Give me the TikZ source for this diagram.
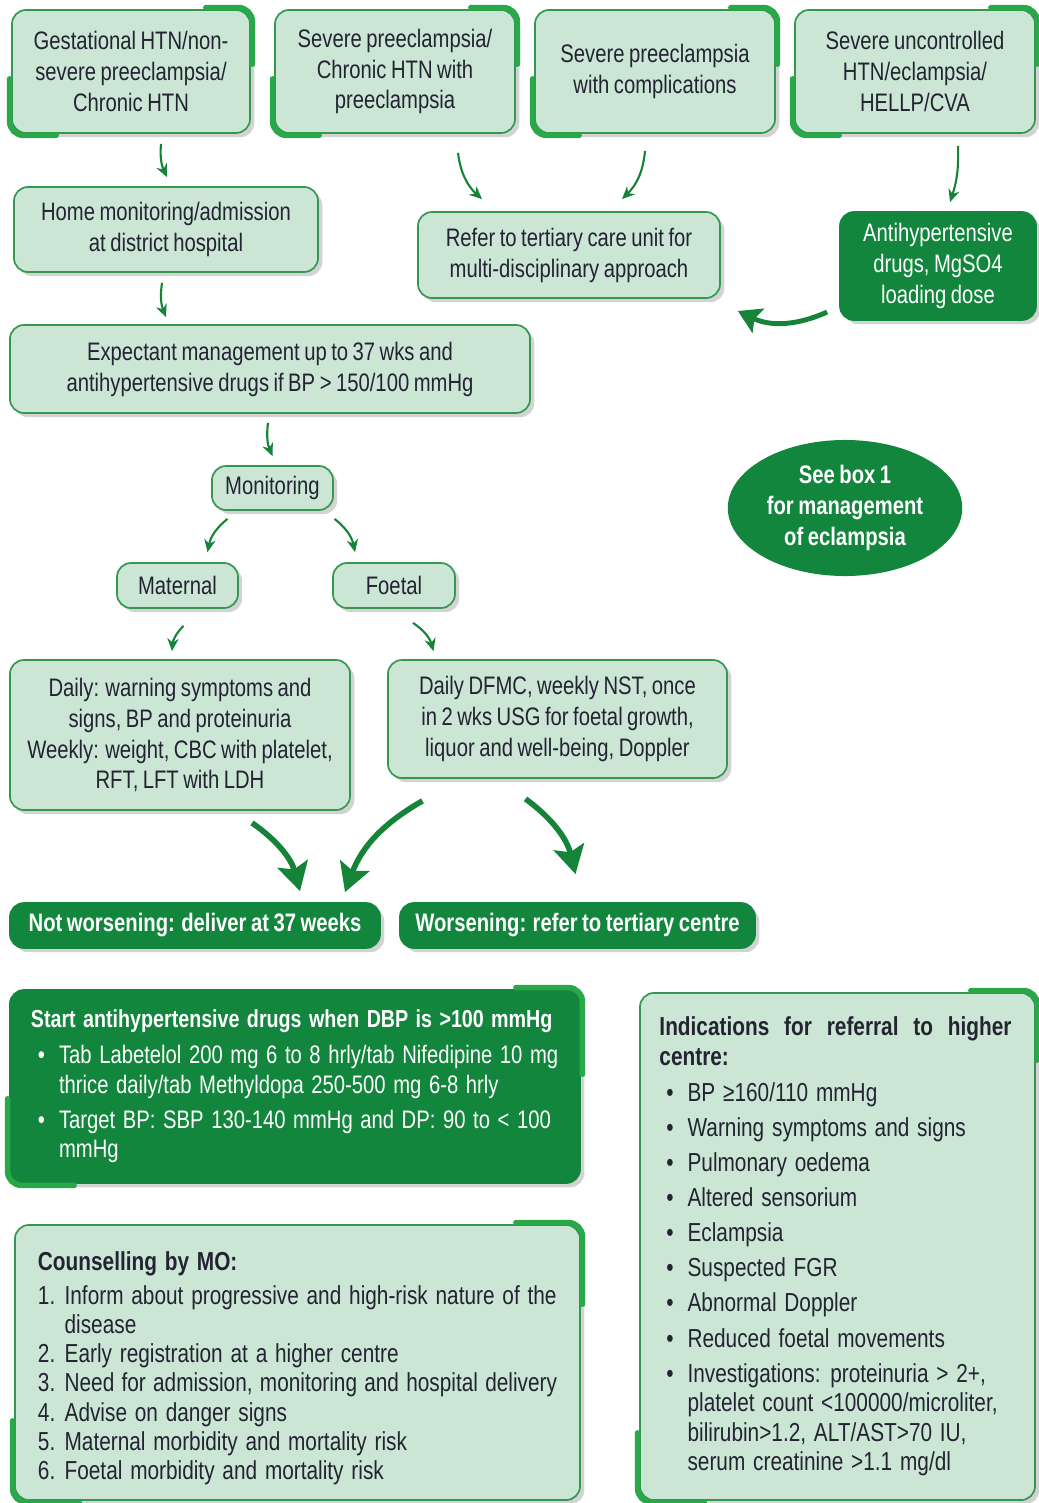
\documentclass[tikz,border=0pt]{standalone}
\usepackage{fontspec}
\setmainfont[FakeStretch=0.8, WordSpace=0.8]{Liberation Sans}
\newfontfamily\listfamily[FakeStretch=0.8, WordSpace=1.35]{Liberation Sans}
\usepackage{tikz}
\usetikzlibrary{arrows.meta, shapes.geometric, shadows, calc}

\definecolor{boxfill}{RGB}{204,230,214}
\definecolor{boxline}{RGB}{52,150,80}
\definecolor{darkgreen}{RGB}{18,134,60}
\definecolor{accentgreen}{RGB}{40,168,72}
\definecolor{arrowgreen}{RGB}{22,132,56}
\definecolor{textdark}{RGB}{35,35,50}

\newcommand{\boxfont}{\fontsize{18}{22}\selectfont}
\newcommand{\listfont}{\listfamily\fontsize{18.5}{21}\selectfont}
\newcommand{\bitem}[1]{\makebox[20pt][l]{\hspace{5pt}\textbullet}#1}
\newcommand{\nitem}[2]{\makebox[19pt][l]{#1}#2}
\newcommand{\bcont}{\hspace*{20pt}}

% thick green marks on the top right and bottom left corners
\newcommand{\corneraccent}[3]{%
	\draw[accent] ($(#1.north east)+(-#2,-1.5)$) -| ($(#1.north east)+(1.5,#3)$);
	\draw[accent] ($(#1.south west)+(-1.5,-#3)$) |- ($(#1.south west)+(#2,1.5)$);
}

\begin{document}
\begin{tikzpicture}
	[%
	x=0.025cm, y=-0.025cm,
	box/.style     ={rectangle, rounded corners=10pt, draw=boxline, line width=1.2pt, fill=boxfill, text=textdark, align=center, inner sep=0pt, font=\boxfont, drop shadow={shadow xshift=3pt, shadow yshift=-3pt, opacity=0.35}},%
	darkbox/.style ={box, draw=darkgreen, fill=darkgreen, text=white},%
	listbox/.style ={align=flush left, font=\listfont},%
	accent/.style  ={draw=accentgreen, line width=4pt, rounded corners=10pt, line cap=round},%
	thinarrow/.style={draw=arrowgreen, line width=1.5pt, -{Stealth[length=9pt, width=8pt]}},%
	bigarrow/.style ={draw=arrowgreen, line width=4pt, -{Stealth[length=20pt, width=22pt, inset=4pt]}},%
	]

	\useasboundingbox (0,0) rectangle (1038,1503);

	% top row
	\node (gest)    at (131,71.5) [box, minimum width=5.95cm, minimum height=3.075cm] {Gestational HTN/non-\\severe preeclampsia/\\Chronic HTN};
	\node (sevpre)  at (395,71.5) [box, minimum width=6cm, minimum height=3.075cm] {Severe preeclampsia/\\Chronic HTN with\\preeclampsia};
	\node (sevcomp) at (655,71.5) [box, minimum width=6cm, minimum height=3.075cm] {Severe preeclampsia\\with complications};
	\node (uncontr) at (915,71.5) [box, minimum width=6cm, minimum height=3.075cm] {Severe uncontrolled\\HTN/eclampsia/\\HELLP/CVA};
	\foreach \n in {gest, sevpre, sevcomp, uncontr} \corneraccent{\n}{45}{55};

	% second row
	\node (home)  at (166,229.5) [box, minimum width=7.6cm, minimum height=2.125cm] {Home monitoring/admission\\at district hospital};
	\node (refer) at (569,255) [box, minimum width=7.55cm, minimum height=2.15cm] {Refer to tertiary care unit for\\multi-disciplinary approach};
	\node (drugs) at (938,266) [darkbox, minimum width=4.9cm, minimum height=2.7cm] {Antihypertensive\\drugs, MgSO4\\loading dose};

	% monitoring
	\node (expect) at (270,369) [box, minimum width=13cm, minimum height=2.2cm] {Expectant management up to 37 wks and\\antihypertensive drugs if BP > 150/100 mmHg};
	\node (monit)  at (272.5,488) [box, minimum width=3.025cm, minimum height=1.1cm] {Monitoring};
	\node (matern) at (177.5,585.5) [box, minimum width=3.025cm, minimum height=1.125cm] {Maternal};
	\node (foetal) at (394,585.5) [box, minimum width=3.05cm, minimum height=1.125cm] {Foetal};
	\node (seebox) at (845,508) [ellipse, fill=darkgreen, text=white, font=\boxfont\bfseries, align=center, minimum width=5.6cm, minimum height=3.4cm] {See box 1\\for management\\of eclampsia};

	\node (dailym) at (180,735) [box, minimum width=8.5cm, minimum height=3.75cm] {Daily: warning symptoms and\\signs, BP and proteinuria\\Weekly: weight, CBC with platelet,\\RFT, LFT with LDH};
	\node (dailyf) at (557.5,719) [box, minimum width=8.475cm, minimum height=2.95cm] {Daily DFMC, weekly NST, once\\in 2 wks USG for foetal growth,\\liquor and well-being, Doppler};

	\node (notworse) at (195,925.5) [darkbox, font=\boxfont\bfseries, minimum width=9.25cm, minimum height=1.125cm] {Not worsening: deliver at 37 weeks};
	\node (worse)    at (577.5,925.5) [darkbox, font=\boxfont\bfseries, minimum width=8.875cm, minimum height=1.125cm] {Worsening: refer to tertiary centre};

	% bottom boxes
	\node (startdrugs) at (295,1086.5) [darkbox, listbox, text width=13.2cm, inner xsep=0.525cm, minimum height=4.825cm] {%
		\fontsize{18}{21.5}\selectfont
		{\fontsize{17.5}{21.5}\selectfont\textbf{Start antihypertensive drugs when DBP is >100 mmHg}}\\[4pt]
		\bitem{Tab Labetelol 200 mg 6 to 8 hrly/tab Nifedipine 10 mg}\\
		\bcont thrice daily/tab Methyldopa 250-500 mg 6-8 hrly\\[3pt]
		\bitem{Target BP: SBP 130-140 mmHg and DP: 90 to < 100}\\
		\bcont mmHg};
	\corneraccent{startdrugs}{65}{85}

	\node (counsel) at (297.5,1362.5) [box, listbox, text width=12.975cm, inner xsep=0.575cm, minimum height=6.875cm] {%
		\fontsize{18.5}{20.8}\selectfont
		\rule{0pt}{22pt}\textbf{Counselling by MO:}\\[3pt]
		\nitem{1.}{Inform about progressive and high-risk nature of the}\\
		\hspace*{19pt}disease\\
		\nitem{2.}{Early registration at a higher centre}\\
		\nitem{3.}{Need for admission, monitoring and hospital delivery}\\
		\nitem{4.}{Advise on danger signs}\\
		\nitem{5.}{Maternal morbidity and mortality risk}\\
		\nitem{6.}{Foetal morbidity and mortality risk}};
	\corneraccent{counsel}{65}{80}

	\node (indic) at (837.5,1246.5) [box, listbox, text width=8.9cm, inner xsep=0.4875cm, minimum height=12.675cm] {%
		\textbf{\makebox[8.8cm][s]{Indications for referral to higher}}\\
		\textbf{centre:}\\[4.5pt]
		\bitem{BP ≥160/110 mmHg}\\[4pt]
		\bitem{Warning symptoms and signs}\\[4pt]
		\bitem{Pulmonary oedema}\\[4pt]
		\bitem{Altered sensorium}\\[4pt]
		\bitem{Eclampsia}\\[4pt]
		\bitem{Suspected FGR}\\[4pt]
		\bitem{Abnormal Doppler}\\[4pt]
		\bitem{Reduced foetal movements}\\[4pt]
		\bitem{Investigations: proteinuria > 2+,}\\
		\bcont platelet count <100000/microliter,\\
		\bcont bilirubin>1.2, ALT/AST>70 IU,\\
		\bcont serum creatinine >1.1 mg/dl};
	\corneraccent{indic}{65}{68}

	% connections
	\draw[thinarrow] ($(gest.south)+(30,10)$)    to [bend right=15] ($(home.north)+(1,-9)$);
	\draw[thinarrow] ($(sevpre.south)+(63,19)$)  to [bend right=20] ($(refer.north)+(-87,-12)$);
	\draw[thinarrow] ($(sevcomp.south)+(-10,17)$) to [bend left=20] ($(refer.north)+(53,-12)$);
	\draw[thinarrow] ($(uncontr.south)+(43,12)$) to [bend left=10] ($(drugs.north)+(12,-9)$);
	\draw[draw=arrowgreen, line width=3.5pt, -{Stealth[length=16pt, width=19pt, inset=3pt]}]
		($(drugs.west)+(-12,46)$) to [bend left=25] ($(refer.east)+(17,56)$);
	\draw[thinarrow] ($(home.south)+(-4,10)$)    to [bend right=15] ($(expect.north)+(-104,-7)$);
	\draw[thinarrow] ($(expect.south)+(-2,9)$)   to [bend right=15] ($(monit.north)+(0,-9)$);
	\draw[thinarrow] ($(monit.south)+(-45,8)$)   to [bend right=20] ($(matern.north)+(30,-10)$);
	\draw[thinarrow] ($(monit.south)+(62,8)$)    to [bend left=20] ($(foetal.north)+(-39,-10)$);
	\draw[thinarrow] ($(matern.south)+(6,17)$)   to [bend right=20] ($(dailym.north)+(-8,-8)$);
	\draw[thinarrow] ($(foetal.south)+(19,14)$)  to [bend left=20] ($(dailyf.north)+(-124,-8)$);

	\draw[bigarrow] ($(dailym.south)+(72,12)$)   to [bend left=20] ($(notworse.north)+(105,-11)$);
	\draw[bigarrow] ($(dailyf.south)+(-135,22)$) to [bend right=20] ($(notworse.north)+(150,-10)$);
	\draw[bigarrow] ($(dailyf.south)+(-32,20)$)  to [bend left=20] ($(worse.north)+(-2,-28)$);

\end{tikzpicture}
\end{document}
